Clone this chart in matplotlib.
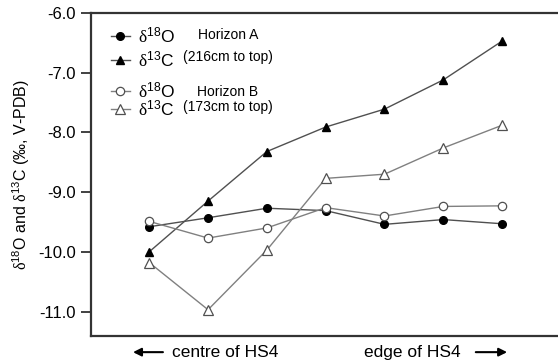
import numpy as np
import matplotlib.pyplot as plt
from matplotlib.lines import Line2D

plt.rcParams['font.family'] = ['Liberation Sans', 'DejaVu Sans']
plt.rcParams['mathtext.fontset'] = 'custom'
plt.rcParams['mathtext.rm'] = 'Liberation Serif'
plt.rcParams['mathtext.default'] = 'regular'

# sample positions from centre to edge of HS4
positions = [0, 1, 2, 3, 4, 5, 6]

# Horizon A (216cm to top)
a_d18O = [-9.58, -9.43, -9.27, -9.31, -9.54, -9.46, -9.53]
a_d13C = [-10.00, -9.15, -8.32, -7.91, -7.61, -7.12, -6.47]

# Horizon B (173cm to top)
b_d18O = [-9.49, -9.77, -9.60, -9.26, -9.40, -9.24, -9.23]
b_d13C = [-10.18, -10.97, -9.97, -8.77, -8.70, -8.26, -7.88]

yticks = [-6.0, -7.0, -8.0, -9.0, -10.0, -11.0]

fig = plt.figure(figsize=(5.58, 3.64), dpi=100)
ax = fig.add_axes([91 / 558, 1 - 336 / 364, 1 - 91 / 558, 323 / 364])

col_a = '#505050'
col_b = '#808080'
sty_a18 = dict(color=col_a, lw=1.0, marker='o', ms=5.5, mfc='black', mec='black')
sty_a13 = dict(color=col_a, lw=1.0, marker='^', ms=6, mfc='black', mec='black')
sty_b18 = dict(color=col_b, lw=1.0, marker='o', ms=6, mfc='white', mec='#505050', mew=0.9)
sty_b13 = dict(color=col_b, lw=1.0, marker='^', ms=6.5, mfc='white', mec='#505050', mew=0.9)

ax.plot(positions, a_d18O, **sty_a18)
ax.plot(positions, a_d13C, **sty_a13)
ax.plot(positions, b_d18O, **sty_b18)
ax.plot(positions, b_d13C, **sty_b13)

ax.set_xlim(-0.99, 6.95)
ax.set_ylim(-11.41, -6.0)
ax.set_yticks(yticks)
ax.set_yticklabels([f'{v:.1f}' for v in yticks], fontsize=12)
ax.set_xticks([])
ax.tick_params(axis='y', direction='out', length=7, width=1.3, pad=4, color='#333333')

for s in ['left', 'top', 'bottom']:
    ax.spines[s].set_linewidth(1.6)
    ax.spines[s].set_color('#333333')
ax.spines['right'].set_visible(False)

ax.set_ylabel(r'$\mathrm{\delta}^{18}$O and $\mathrm{\delta}^{13}$C (‰, V-PDB)', fontsize=11.5)
ax.yaxis.set_label_coords(-0.126, 0.5)

# legends
labels = [r'$\mathrm{\delta}^{18}$O', r'$\mathrm{\delta}^{13}$C']
h_a = [Line2D([], [], **sty_a18), Line2D([], [], **sty_a13)]
h_b = [Line2D([], [], **sty_b18), Line2D([], [], **sty_b13)]
leg_kw = dict(loc='upper left', frameon=False, fontsize=12.5, handlelength=1.1,
              handletextpad=0.45, borderaxespad=0, borderpad=0)
leg1 = ax.legend(h_a, labels, bbox_to_anchor=(0.042, 0.962), labelspacing=0.25, **leg_kw)
ax.add_artist(leg1)
ax.legend(h_b, labels, bbox_to_anchor=(0.042, 0.792), labelspacing=-0.1, **leg_kw)

ax.text(0.293, 0.932, 'Horizon A', transform=ax.transAxes, fontsize=10,
        ha='center', va='center')
ax.text(0.293, 0.864, '(216cm to top)', transform=ax.transAxes, fontsize=10,
        ha='center', va='center')
ax.text(0.293, 0.755, 'Horizon B', transform=ax.transAxes, fontsize=10,
        ha='center', va='center')
ax.text(0.293, 0.709, '(173cm to top)', transform=ax.transAxes, fontsize=10,
        ha='center', va='center')

# direction annotations below the axis
ax.annotate('', xy=(0.084, -0.05), xytext=(0.16, -0.05), xycoords='axes fraction',
            arrowprops=dict(arrowstyle='-|>', color='black', lw=1.5,
                            mutation_scale=12), annotation_clip=False)
ax.text(0.174, -0.05, 'centre of HS4', transform=ax.transAxes, fontsize=12.5,
        ha='left', va='center')
ax.text(0.585, -0.05, 'edge of HS4', transform=ax.transAxes, fontsize=12.5,
        ha='left', va='center')
ax.annotate('', xy=(0.897, -0.05), xytext=(0.818, -0.05), xycoords='axes fraction',
            arrowprops=dict(arrowstyle='-|>', color='black', lw=1.5,
                            mutation_scale=12), annotation_clip=False)

fig.savefig('out.png', dpi=100)
